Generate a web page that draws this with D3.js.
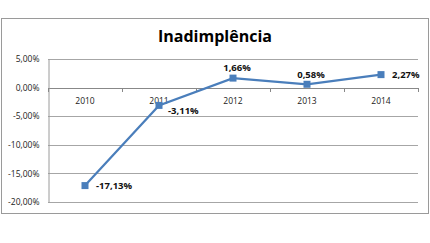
<!DOCTYPE html>
<html>
<head>
<meta charset="utf-8">
<script src="https://cdn.jsdelivr.net/npm/d3@7"></script>
<style>
  body { margin: 0; background: #fff; }
  text { font-family: "Open Sans", "Liberation Sans", sans-serif; }
</style>
</head>
<body>
<svg id="chart" width="430" height="243"></svg>
<script>
// chart data
var years = ["2010", "2011", "2012", "2013", "2014"];
var inadimplencia = [-17.13, -3.11, 1.66, 0.58, 2.27];
var yTicks = [5, 0, -5, -10, -15, -20];

var svg = d3.select("#chart");
//pt-BR style: comma decimals, plain hyphen minus
var fmt = function(v) { return d3.format(".2f")(v).replace("−", "-").replace(".", ",") + "%"; };

//outer frame
svg.append("rect")
  .attr("x", 1.5).attr("y", 18.5)
  .attr("width", 427).attr("height", 195)
  .attr("fill", "#fff").attr("stroke", "#9a9a9a");

//title
svg.append("text")
  .attr("x", 215).attr("y", 42)
  .attr("text-anchor", "middle")
  .attr("font-size", 16).attr("font-weight", "bold")
  .attr("fill", "#000")
  .text("Inadimplência");

var left = 48, right = 418;
var x = d3.scalePoint().domain(years).range([left, right]).padding(0.5);
var y = d3.scaleLinear().domain([-20, 5]).range([202, 59]);

//gridlines
svg.append("g").selectAll("line")
  .data(yTicks)
  .enter().append("line")
  .attr("x1", left).attr("x2", right)
  .attr("y1", function(d) { return Math.round(y(d)) + 0.5; })
  .attr("y2", function(d) { return Math.round(y(d)) + 0.5; })
  .attr("stroke", function(d) { return d === 0 ? "#888" : "#a6a6a6"; })
  .attr("stroke-width", 1);

//y axis
var yAxis = svg.append("g")
  .attr("transform", "translate(" + (left + 0.5) + ",0)")
  .call(d3.axisLeft(y).tickValues(yTicks).tickSize(0).tickPadding(9).tickFormat(fmt));
yAxis.select(".domain").attr("stroke", "#9a9a9a");
yAxis.selectAll("text").attr("font-size", 8.5).attr("fill", "#222")
  .attr("font-family", "'Open Sans', sans-serif");

//category boundary ticks on the zero line
var step = x.step();
svg.append("g").selectAll("line")
  .data(d3.range(years.length + 1))
  .enter().append("line")
  .attr("x1", function(i) { return Math.round(left + i * step) + 0.5; })
  .attr("x2", function(i) { return Math.round(left + i * step) + 0.5; })
  .attr("y1", Math.round(y(0))).attr("y2", Math.round(y(0)) + 4)
  .attr("stroke", "#888");

//year labels
svg.append("g").selectAll("text")
  .data(years)
  .enter().append("text")
  .attr("x", function(d) { return x(d); })
  .attr("y", y(0) + 16)
  .attr("text-anchor", "middle")
  .attr("font-size", 8.5).attr("fill", "#222")
  .text(function(d) { return d; });

//line
var line = d3.line()
  .x(function(d, i) { return x(years[i]); })
  .y(function(d) { return y(d); });
svg.append("path")
  .datum(inadimplencia)
  .attr("d", line)
  .attr("fill", "none")
  .attr("stroke", "#4a7ebb")
  .attr("stroke-width", 2.2);

//markers
svg.append("g").selectAll("rect")
  .data(inadimplencia)
  .enter().append("rect")
  .attr("x", function(d, i) { return x(years[i]) - 3.5; })
  .attr("y", function(d) { return y(d) - 3.5; })
  .attr("width", 7).attr("height", 7)
  .attr("fill", "#4a7ebb");

//data labels: offsets from the point (right or above)
var labelDx = [11, 9, 4, 4, 11];
var labelDy = [3.5, 8.5, -7, -6, 3.5];
var above = [false, false, true, true, false];
svg.append("g").selectAll("text")
  .data(inadimplencia)
  .enter().append("text")
  .attr("x", function(d, i) { return x(years[i]) + labelDx[i]; })
  .attr("y", function(d, i) { return y(d) + labelDy[i]; })
  .attr("text-anchor", function(d, i) { return above[i] ? "middle" : "start"; })
  .attr("font-size", 9.5).attr("font-weight", "bold").attr("fill", "#111")
  .text(fmt);
</script>
</body>
</html>
